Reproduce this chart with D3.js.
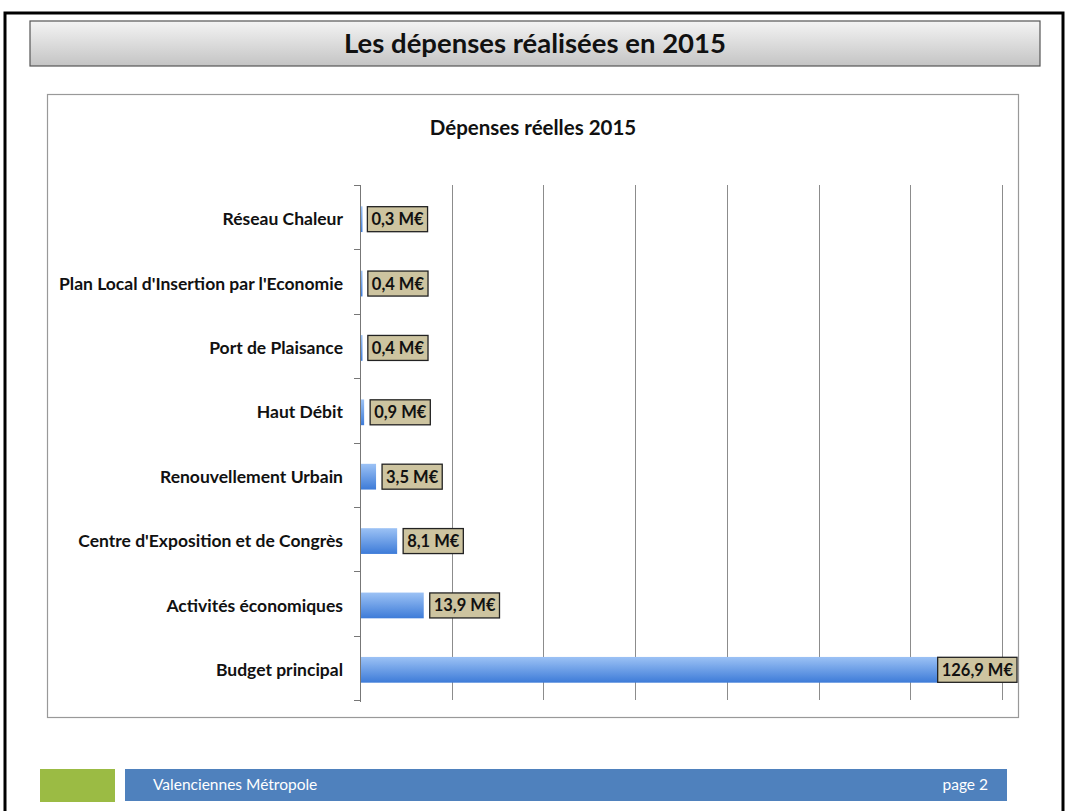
<!DOCTYPE html>
<html><head><meta charset="utf-8">
<script src="https://cdn.jsdelivr.net/npm/d3@7"></script>
<style>body{margin:0;background:#fff}svg{display:block}</style>
</head><body>
<script>
const pageTitle = "Les dépenses réalisées en 2015";
const chartTitle = "Dépenses réelles 2015";
const categories = ["Réseau Chaleur","Plan Local d'Insertion par l'Economie","Port de Plaisance","Haut Débit","Renouvellement Urbain","Centre d'Exposition et de Congrès","Activités économiques","Budget principal"];
const values = [0.3,0.4,0.4,0.9,3.5,8.1,13.9,126.9];
const valueLabels = ["0,3 M€","0,4 M€","0,4 M€","0,9 M€","3,5 M€","8,1 M€","13,9 M€","126,9 M€"];
const gridTicks = [0,20,40,60,80,100,120,140];
const footerLeft = "Valenciennes Métropole";
const footerRight = "page 2";

const W = 1069, H = 811;
const svg = d3.select("body").append("svg").attr("width", W).attr("height", H);
const defs = svg.append("defs");
const tg = defs.append("linearGradient").attr("id","tg").attr("x1",0).attr("y1",0).attr("x2",0).attr("y2",1);
tg.append("stop").attr("offset","0%").attr("stop-color","#f4f4f4");
tg.append("stop").attr("offset","100%").attr("stop-color","#c4c4c4");
const bg = defs.append("linearGradient").attr("id","bg").attr("x1",0).attr("y1",0).attr("x2",0).attr("y2",1);
bg.append("stop").attr("offset","0%").attr("stop-color","#9cc2f5");
bg.append("stop").attr("offset","100%").attr("stop-color","#3d7bd8");

// outer page border
svg.append("path").attr("d","M5,811 L5,13 L1063,13 L1063,811").attr("fill","none").attr("stroke","#000").attr("stroke-width",3);

// title box
svg.append("rect").attr("x",30).attr("y",21).attr("width",1010).attr("height",45).attr("fill","url(#tg)").attr("stroke","#555").attr("stroke-width",1.2);
svg.append("text").attr("x",535).attr("y",53).attr("text-anchor","middle").attr("font-family","Lato, sans-serif").attr("font-weight","bold").attr("font-size",27.5).attr("fill","#111").text(pageTitle);

// chart box
svg.append("rect").attr("x",47.5).attr("y",94.5).attr("width",971).attr("height",623).attr("fill","#fff").attr("stroke","#999").attr("stroke-width",1.2);
svg.append("text").attr("x",533).attr("y",135).attr("text-anchor","middle").attr("font-family","Lato, sans-serif").attr("font-weight","bold").attr("font-size",20.5).attr("fill","#111").text(chartTitle);

const x = d3.scaleLinear().domain([0,140]).range([360,1002]);
const y = d3.scaleBand().domain(categories).range([187,702]).paddingInner(0.6).paddingOuter(0.3);

// gridlines
svg.append("g").selectAll("line").data(gridTicks.slice(1)).join("line")
  .attr("x1",d=>Math.round(x(d))+0.5).attr("x2",d=>Math.round(x(d))+0.5)
  .attr("y1",185).attr("y2",700).attr("stroke","#8c8c8c").attr("stroke-width",1);

// y axis
const step = (700-185)/categories.length;
const yAxisG = svg.append("g");
yAxisG.append("line").attr("x1",360.5).attr("x2",360.5).attr("y1",185).attr("y2",702).attr("stroke","#777");
yAxisG.selectAll("line.tk").data(d3.range(categories.length+1)).join("line").attr("class","tk")
  .attr("x1",354).attr("x2",360.5).attr("y1",i=>Math.round(185+i*step)+0.5).attr("y2",i=>Math.round(185+i*step)+0.5).attr("stroke","#777");

// category labels
svg.append("g").selectAll("text").data(categories).join("text")
  .attr("x",343).attr("y",d=>y(d)+y.bandwidth()/2).attr("dy","0.35em").attr("text-anchor","end")
  .attr("font-family","Lato, sans-serif").attr("font-weight","bold").attr("font-size",17.5).attr("fill","#111").text(d=>d);

// bars
svg.append("g").selectAll("rect").data(values).join("rect")
  .attr("x",x(0)+1).attr("y",(d,i)=>y(categories[i])).attr("width",d=>Math.max(1.5,x(d)-x(0)-1)).attr("height",y.bandwidth())
  .attr("fill","url(#bg)");

// value label boxes
const lg = svg.append("g");
values.forEach((v,i)=>{
  const g = lg.append("g");
  const t = g.append("text").attr("font-family","Lato, sans-serif").attr("font-weight","bold").attr("font-size",16.5).attr("fill","#111").text(valueLabels[i]);
  const bw = t.node().getComputedTextLength() + 8;
  let bx = x(v) + 6;
  if (bx + bw > 1017) bx = 1017 - bw;
  const cy = y(categories[i]) + y.bandwidth()/2;
  g.insert("rect","text").attr("x",bx).attr("y",cy-12.5).attr("width",bw).attr("height",25).attr("fill","#cdc4a0").attr("stroke","#222").attr("stroke-width",1.3);
  t.attr("x",bx+4).attr("y",cy).attr("dy","0.36em");
});

// footer
svg.append("rect").attr("x",40).attr("y",769).attr("width",75).attr("height",33).attr("fill","#9bbb44");
svg.append("rect").attr("x",125).attr("y",769).attr("width",882).attr("height",32).attr("fill","#4f81bd");
svg.append("text").attr("x",153).attr("y",790).attr("font-family","Lato, sans-serif").attr("font-size",15.5).attr("fill","#fff").text(footerLeft);
svg.append("text").attr("x",988).attr("y",790).attr("text-anchor","end").attr("font-family","Lato, sans-serif").attr("font-size",15.5).attr("fill","#fff").text(footerRight);
</script>
</body></html>
